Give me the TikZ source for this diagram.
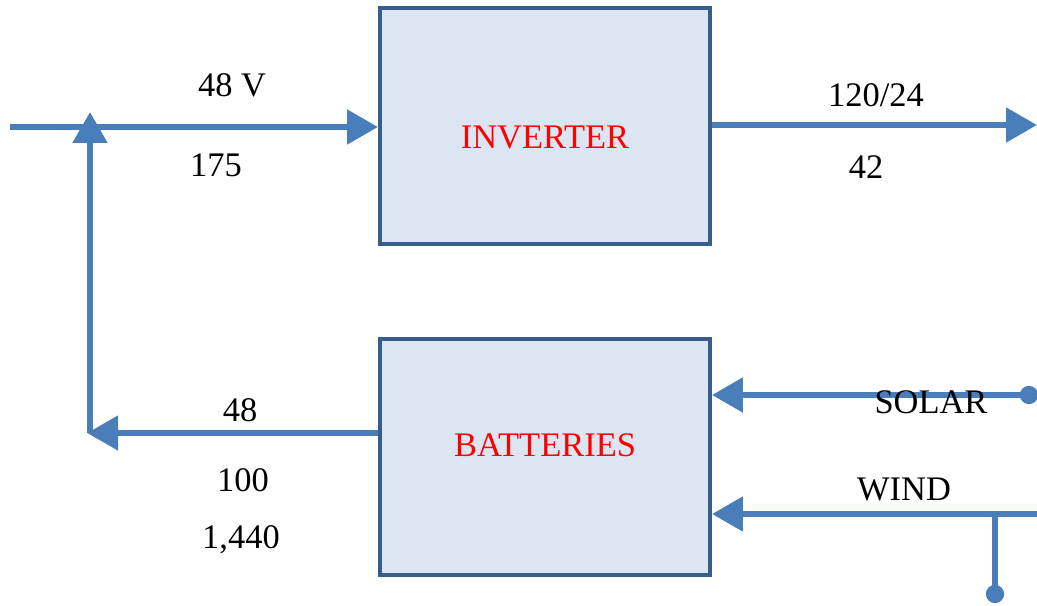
\documentclass[tikz,border=0pt]{standalone}
\usepackage{fontspec}
\setmainfont{Liberation Serif}
\usetikzlibrary{arrows.meta,positioning}
\definecolor{boxfill}{RGB}{220,230,242}
\definecolor{boxline}{RGB}{56,93,138}
\definecolor{flowblue}{RGB}{74,126,187}

\begin{document}
\begin{tikzpicture}[x=0.025cm, y=-0.025cm,
      unitbox/.style={draw=boxline, fill=boxfill, line width=2.8pt, minimum width=8.25cm, minimum height=5.9cm, inner sep=0pt},
      boxtext/.style={font=\fontsize{24.5}{28}\selectfont, text=red, inner sep=0pt},
      flow/.style={draw=flowblue, line width=4.2pt, -{Triangle[length=22pt, width=24pt]}},
      wire/.style={draw=flowblue, line width=4.2pt},
      tap/.style={circle, fill=flowblue, inner sep=0pt, minimum size=13pt},
      val/.style={font=\fontsize{24.5}{28}\selectfont, inner sep=0pt}
    ]
      \useasboundingbox (0,0) rectangle (1037,605);

      % Boxes
      \node[unitbox, label={[boxtext, yshift=-8.5pt]center:INVERTER}] (inv) at (545,126) {};
      \node[unitbox, label={[boxtext, yshift=8pt]center:BATTERIES}] (bat) at (545,457) {};

      % Ends of the lines
      \coordinate (dcin) at (10,127);
      \coordinate (join) at (90,112);
      \coordinate (corner) at (90,433);
      \coordinate (acout) at (1037,125);
      \coordinate (windin) at (1037,514);
      \coordinate (windsplit) at (995,514);
      \node[tap] (solar) at (1029,395) {};
      \node[tap] (windtap) at (995,594) {};

      % DC bus to inverter
      \draw[flow] (dcin) -- (inv.west |- dcin);
      \draw[flow] (corner) -- (join);
      \draw[flow] (bat.west |- corner) -- ([xshift=-2pt]corner);

      % Inverter output
      \draw[flow] (inv.east |- acout) -- (acout);

      % Charging inputs
      \draw[flow] (solar.center) -- (bat.east |- solar);
      \draw[flow] (windin) -- (bat.east |- windin);
      \draw[wire] (windsplit) -- (windtap.center);

      % Values
      \node[val] (vin) at (232,85) {48 V};
      \node[val] (ain) at (216,165) {175};
      \node[val] (vout) at (876,95) {120/24};
      \node[val] (aout) at (866,167) {42};
      \node[val] (vbat) at (240,410) {48};
      \node[val] (abat) at (243,480) {100};
      \node[val] (whbat) at (241,540) {1,440};
      \node[val] (sol) at (931,402) {SOLAR};
      \node[val] (wnd) at (904,489) {WIND};
    \end{tikzpicture}
\end{document}
